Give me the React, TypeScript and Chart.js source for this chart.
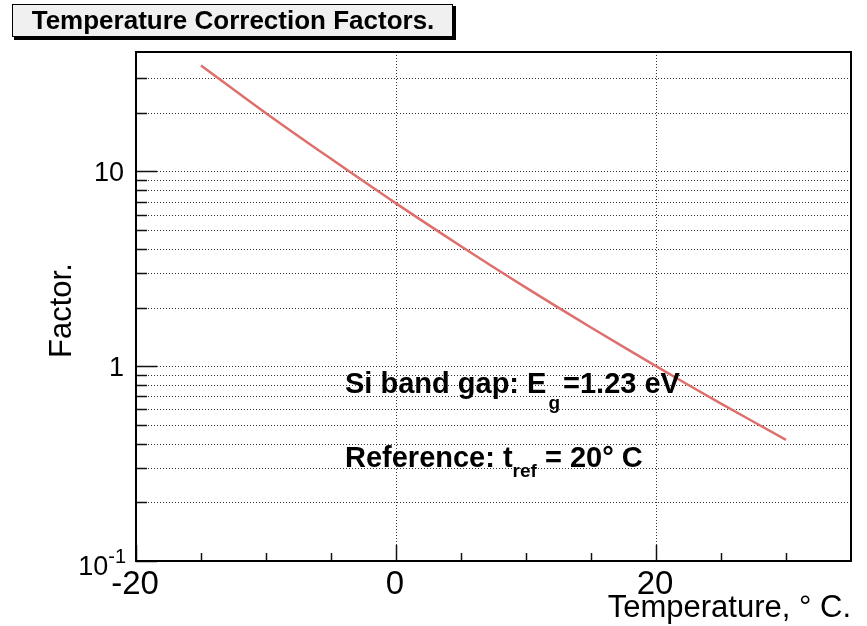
import React, { useEffect, useRef } from "react";
import { Chart, registerables } from "chart.js";

Chart.register(...registerables);

// ---- data ----
const temps = [-15, -10, -5, 0, 5, 10, 15, 20, 25, 30];
const factors = [35.0, 19.9, 11.6, 6.85, 4.13, 2.53, 1.58, 1.0, 0.643, 0.419];

const xMin = -20;
const xMax = 35;
const yMin = 0.1;
const yMax = 41;

const xMajorTicks = [-20, 0, 20];
const xMinorTicks = [-15, -10, -5, 5, 10, 15, 25, 30];
const xTickLabels = ["-20", "0", "20"];

const yMajorTicks = [0.1, 1, 10];
const yMinorTicks = [0.2, 0.3, 0.4, 0.5, 0.6, 0.7, 0.8, 0.9, 2, 3, 4, 5, 6, 7, 8, 9, 20, 30];
const yTickBase = ["10", "1", "10"];
const yTickSup = ["-1", "", ""];

const titleText = "Temperature Correction Factors.";
const xTitle = "Temperature, \u00b0 C.";
const yTitle = "Factor.";

const FONT = "'Liberation Sans', Arial, Helvetica, sans-serif";

const rootStyle = {
  id: "rootStyle",
  beforeDatasetsDraw(chart: any) {
    const { ctx, chartArea: a, scales } = chart;
    const x = scales.x;
    const y = scales.y;
    ctx.save();
    // dotted grid
    ctx.strokeStyle = "#333";
    ctx.lineWidth = 1;
    ctx.setLineDash([1, 2]);
    [...yMajorTicks, ...yMinorTicks].forEach((v) => {
      if (v <= yMin) return;
      const py = Math.round(y.getPixelForValue(v)) + 0.5;
      ctx.beginPath();
      ctx.moveTo(a.left, py);
      ctx.lineTo(a.right, py);
      ctx.stroke();
    });
    xMajorTicks.forEach((v) => {
      if (v <= xMin) return;
      const px = Math.round(x.getPixelForValue(v)) + 0.5;
      ctx.beginPath();
      ctx.moveTo(px, a.top);
      ctx.lineTo(px, a.bottom);
      ctx.stroke();
    });
    ctx.setLineDash([]);
    // tick marks
    ctx.strokeStyle = "#111";
    ctx.lineWidth = 1.5;
    const tickY = (v: number, len: number) => {
      const py = Math.round(y.getPixelForValue(v)) + 0.5;
      ctx.beginPath();
      ctx.moveTo(a.left, py);
      ctx.lineTo(a.left + len, py);
      ctx.stroke();
    };
    yMajorTicks.forEach((v) => tickY(v, 21));
    yMinorTicks.forEach((v) => tickY(v, 11));
    const tickX = (v: number, len: number) => {
      const px = Math.round(x.getPixelForValue(v)) + 0.5;
      ctx.beginPath();
      ctx.moveTo(px, a.bottom);
      ctx.lineTo(px, a.bottom - len);
      ctx.stroke();
    };
    xMajorTicks.forEach((v) => tickX(v, 16));
    xMinorTicks.forEach((v) => tickX(v, 8));
    ctx.restore();
  },
  afterDatasetsDraw(chart: any) {
    const { ctx, chartArea: a, scales } = chart;
    const x = scales.x;
    const y = scales.y;
    ctx.save();
    // frame
    ctx.strokeStyle = "#000";
    ctx.lineWidth = 2;
    ctx.strokeRect(a.left, a.top, a.right - a.left, a.bottom - a.top);

    ctx.fillStyle = "#000";
    // x tick labels
    ctx.font = `33px ${FONT}`;
    ctx.textAlign = "center";
    ctx.textBaseline = "alphabetic";
    xMajorTicks.forEach((v, i) => {
      ctx.fillText(xTickLabels[i], x.getPixelForValue(v) - 1, a.bottom + 33);
    });
    // y tick labels
    yMajorTicks.forEach((v, i) => {
      const py = y.getPixelForValue(v);
      if (yTickSup[i]) {
        ctx.font = `20px ${FONT}`;
        ctx.textAlign = "right";
        const sw = ctx.measureText(yTickSup[i]).width;
        ctx.fillText(yTickSup[i], 126, py + 2);
        ctx.font = `27px ${FONT}`;
        ctx.fillText(yTickBase[i], 126 - sw, py + 14);
      } else {
        ctx.font = `27px ${FONT}`;
        ctx.textAlign = "right";
        ctx.fillText(yTickBase[i], 124, py + 10);
      }
    });
    // axis titles
    ctx.font = `31px ${FONT}`;
    ctx.textAlign = "right";
    ctx.fillText(xTitle, a.right, 617);
    ctx.save();
    ctx.translate(71, 358);
    ctx.rotate(-Math.PI / 2);
    ctx.textAlign = "left";
    ctx.fillText(yTitle, 0, 0);
    ctx.restore();

    // annotations
    ctx.textAlign = "left";
    const big = `bold 29px ${FONT}`;
    const small = `bold 19px ${FONT}`;
    let cx = 345;
    ctx.font = big;
    ctx.fillText("Si band gap: E", cx, 393);
    cx += ctx.measureText("Si band gap: E").width;
    ctx.font = small;
    ctx.fillText("g", cx + 2, 409);
    cx += ctx.measureText("g").width + 5;
    ctx.font = big;
    ctx.fillText("=1.23 eV", cx, 393);

    cx = 345;
    ctx.fillText("Reference: t", cx, 467);
    cx += ctx.measureText("Reference: t").width;
    ctx.font = small;
    ctx.fillText("ref", cx, 477);
    cx += ctx.measureText("ref").width;
    ctx.font = big;
    ctx.fillText(" = 20\u00b0 C", cx, 467);

    // title box
    ctx.fillStyle = "#000";
    ctx.fillRect(14, 6, 442, 34);
    ctx.fillStyle = "#f0f0f0";
    ctx.fillRect(12, 4, 441, 33);
    ctx.strokeStyle = "#000";
    ctx.lineWidth = 1;
    ctx.strokeRect(12.5, 4.5, 440, 32);
    ctx.fillStyle = "#000";
    ctx.font = `bold 26px ${FONT}`;
    ctx.textAlign = "center";
    ctx.fillText(titleText, 233, 29);
    ctx.restore();
  },
};

export default function App() {
  const ref = useRef<HTMLCanvasElement | null>(null);
  useEffect(() => {
    document.body.style.margin = "0";
    const canvas = ref.current;
    if (!canvas) return;
    const chart = new Chart(canvas, {
      type: "line",
      data: {
        datasets: [
          {
            data: temps.map((t, i) => ({ x: t, y: factors[i] })),
            borderColor: "#de6f6c",
            borderWidth: 2.5,
            pointRadius: 0,
            tension: 0.3,
            fill: false,
          },
        ],
      },
      options: {
        animation: false,
        responsive: false,
        devicePixelRatio: 1,
        events: [],
        layout: { padding: { left: 136, top: 52, right: 16, bottom: 65 } },
        plugins: {
          legend: { display: false },
          title: { display: false },
          tooltip: { enabled: false },
        },
        scales: {
          x: { type: "linear", min: xMin, max: xMax, display: false },
          y: { type: "logarithmic", min: yMin, max: yMax, display: false },
        },
      },
      plugins: [rootStyle],
    });
    return () => chart.destroy();
  }, []);
  return (
    <div style={{ position: "absolute", left: 0, top: 0, width: 867, height: 626, background: "#fff" }}>
      <canvas ref={ref} width={867} height={626} style={{ width: 867, height: 626, display: "block" }} />
    </div>
  );
}
